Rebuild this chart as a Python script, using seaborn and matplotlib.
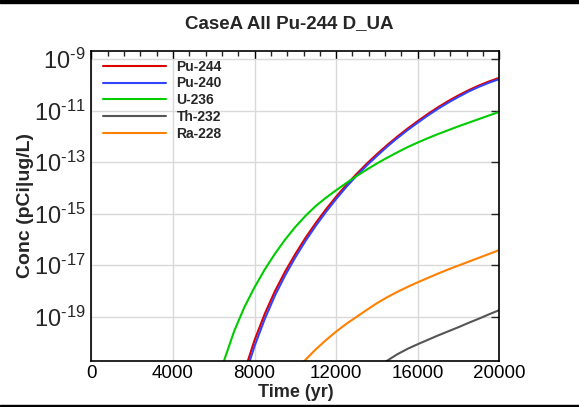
import matplotlib
matplotlib.use("Agg")
import matplotlib.pyplot as plt
import matplotlib.ticker as mticker
import numpy as np
import pandas as pd
import seaborn as sns

# log10 of concentration (pCi|ug/L), per nuclide
pu244_t = [7500, 8000, 8500, 9000, 9500, 10000, 10500, 11000, 11500, 12000, 12500, 13000, 13500, 14000,
           14500, 15000, 15500, 16000, 16500, 17000, 17500, 18000, 18500, 19000, 19500, 20000]
pu244_log = [-21.12, -19.9, -18.88, -18.0, -17.24, -16.56, -15.93, -15.36, -14.83, -14.34, -13.88, -13.46, -13.06, -12.69,
             -12.34, -12.01, -11.7, -11.41, -11.13, -10.87, -10.63, -10.41, -10.21, -10.03, -9.87, -9.73]

pu240_t = [7500, 8000, 8500, 9000, 9500, 10000, 10500, 11000, 11500, 12000, 12500, 13000, 13500, 14000,
           14500, 15000, 15500, 16000, 16500, 17000, 17500, 18000, 18500, 19000, 19500, 20000]
pu240_log = [-21.35, -20.13, -19.08, -18.17, -17.39, -16.69, -16.05, -15.47, -14.93, -14.43, -13.96, -13.53, -13.13, -12.76,
             -12.4, -12.07, -11.76, -11.47, -11.19, -10.93, -10.69, -10.47, -10.26, -10.08, -9.92, -9.78]

u236_t = [6400, 6500, 7000, 7500, 8000, 8500, 9000, 9500, 10000, 10500, 11000, 11500, 12000, 12500, 13000,
          13500, 14000, 14500, 15000, 15500, 16000, 16500, 17000, 17500, 18000, 18500, 19000, 19500, 20000]
u236_log = [-20.95, -20.7, -19.55, -18.62, -17.85, -17.16, -16.55, -16.0, -15.51, -15.08, -14.7, -14.38, -14.09, -13.81, -13.54,
            -13.29, -13.05, -12.83, -12.62, -12.42, -12.24, -12.07, -11.91, -11.76, -11.61, -11.47, -11.33, -11.19, -11.05]

th232_t = [14400, 15000, 15500, 16000, 16500, 17000, 17500, 18000, 18500, 19000, 19500, 20000]
th232_log = [-20.75, -20.45, -20.24, -20.06, -19.89, -19.72, -19.56, -19.4, -19.23, -19.07, -18.9, -18.74]

ra228_t = [10400, 11000, 11500, 12000, 12500, 13000, 13500, 14000, 14500, 15000, 15500, 16000, 16500,
           17000, 17500, 18000, 18500, 19000, 19500, 20000]
ra228_log = [-20.74, -20.26, -19.9, -19.57, -19.27, -19.0, -18.73, -18.47, -18.24, -18.03, -17.84, -17.66, -17.49,
             -17.32, -17.16, -17.01, -16.86, -16.71, -16.56, -16.41]

names = ["Pu-244", "Pu-240", "U-236", "Th-232", "Ra-228"]
colors = ["#dd0000", "#3344ff", "#00cc00", "#555555", "#ff8000"]
series = [(pu244_t, pu244_log), (pu240_t, pu240_log), (u236_t, u236_log),
          (th232_t, th232_log), (ra228_t, ra228_log)]

frames = []
for name, (t, lg) in zip(names, series):
    frames.append(pd.DataFrame({"Time": t, "Conc": [10.0 ** v for v in lg], "Nuclide": name}))
df = pd.concat(frames, ignore_index=True)

sns.set_style("white")
plt.rcParams["font.family"] = ["Liberation Sans", "DejaVu Sans"]
plt.rcParams["mathtext.fontset"] = "custom"
plt.rcParams["mathtext.rm"] = "Liberation Sans"

fig = plt.figure(figsize=(5.79, 4.07), dpi=100)
ax = fig.add_axes([0.158, 0.1138, 0.7043, 0.7617])

sns.lineplot(df, x="Time", y="Conc", hue="Nuclide", hue_order=names, palette=colors,
             estimator=None, sort=False, linewidth=1.5, ax=ax)

ax.set_yscale("log")
ax.set_xlim(0, 20000)
ax.set_ylim(2e-21, 2.1e-9)
ax.set_xticks(range(0, 20001, 4000))
ax.xaxis.set_minor_locator(mticker.MultipleLocator(800))
ax.set_yticks([1e-9, 1e-11, 1e-13, 1e-15, 1e-17, 1e-19])
ax.yaxis.set_minor_locator(mticker.NullLocator())


def pow_label(v, pos):
    # short hyphen in the exponent, like the reference
    e = int(round(np.log10(v)))
    return r"$\mathdefault{10^{\text{-}%d}}$" % abs(e)


ax.yaxis.set_major_formatter(mticker.FuncFormatter(pow_label))

ax.grid(True, which="major", color="#d9d9d9", linewidth=1.0)
ax.set_axisbelow(True)
for sp in ax.spines.values():
    sp.set_color("black")
    sp.set_linewidth(1.2)

ax.tick_params(axis="x", which="major", direction="in", length=6, width=1, top=True, labelsize=13.5, pad=3, colors="black")
ax.tick_params(axis="x", which="minor", direction="in", length=3.3, width=1, top=True)
ax.tick_params(axis="y", which="major", direction="in", length=6, width=1, right=True, labelsize=17, pad=4.5)

ax.set_xlabel("Time (yr)", fontsize=13, fontweight="bold")
ax.xaxis.set_label_coords(0.5, -0.075)
ax.xaxis.label.set_va("top")
ax.set_ylabel("Conc (pCi|ug/L)", fontsize=14, fontweight="bold")
ax.yaxis.set_label_coords(-0.14, 0.5)

handles, labels = ax.get_legend_handles_labels()
leg = ax.legend(handles, labels, loc="upper left", bbox_to_anchor=(0.0275, 0.971), frameon=False,
                borderpad=0, borderaxespad=0, handlelength=4.55, handletextpad=0.77, labelspacing=0.2,
                prop={"weight": "bold", "size": 10})

fig.text(0.5, 1 - 24 / 407, "CaseA All Pu-244 D_UA", ha="center", va="center", fontsize=13.5, fontweight="bold")

# black rules at top and bottom of the figure
fig.add_artist(plt.Rectangle((0, 1 - 2.5 / 407), 1, 2.5 / 407, transform=fig.transFigure, color="black"))
fig.add_artist(plt.Rectangle((0, 1 - 406.8 / 407), 1, 2.0 / 407, transform=fig.transFigure, color="black"))

fig.savefig("out.png", dpi=100)
